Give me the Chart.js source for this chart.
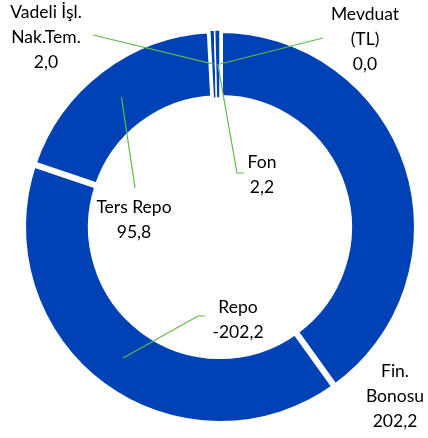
<!DOCTYPE html>
<html lang="tr">
  <head>
    <meta charset="UTF-8" />
    <title>Doughnut</title>
    <script src="https://cdn.jsdelivr.net/npm/chart.js"></script>
    <style>
      html, body { margin: 0; padding: 0; background: #fff; }
      #wrap { width: 428px; height: 438px; position: relative; }
    </style>
  </head>
  <body>
    <div id="wrap"><canvas id="myChart"></canvas></div>
    <script>
      // data
      const categories = ["Fin. Bonosu", "Repo", "Ters Repo", "Vadeli İşl. Nak.Tem.", "Fon", "Mevduat (TL)"];
      const values = [202.2, -202.2, 95.8, 2.0, 2.2, 0.0];
      const labelLines = [["Fin.", "Bonosu"], ["Repo"], ["Ters Repo"], ["Vadeli İşl.", "Nak.Tem."], ["Fon"], ["Mevduat", "(TL)"]];

      const BLUE = "#0042b6";
      const GREEN = "#5cbb48";

      // label centre (first line) and leader line points, per slice
      const labelPos = [
        { x: 395, y: 371, lead: null },
        { x: 238, y: 307, lead: [[205, 316], [198, 316]] },
        { x: 134, y: 207, lead: [[135, 188]] },
        { x: 46, y: 12, lead: [[93, 35]] },
        { x: 262, y: 162, lead: [[244, 173], [237, 173]] },
        { x: 365, y: 14, lead: [[323, 38]] },
      ];

      const fmt = (v) => v.toFixed(1).replace(".", ",");

      const labelPlugin = {
        id: "sliceLabels",
        afterDatasetsDraw(chart) {
          const ctx = chart.ctx;
          const meta = chart.getDatasetMeta(0);
          ctx.save();
          meta.data.forEach((arc, i) => {
            const p = labelPos[i];
            if (p.lead) {
              const mid = (arc.startAngle + arc.endAngle) / 2;
              const r = (arc.innerRadius + arc.outerRadius) / 2;
              ctx.strokeStyle = GREEN;
              ctx.lineWidth = 1.2;
              ctx.beginPath();
              ctx.moveTo(p.lead[0][0], p.lead[0][1]);
              for (let k = 1; k < p.lead.length; k++) ctx.lineTo(p.lead[k][0], p.lead[k][1]);
              ctx.lineTo(arc.x + Math.cos(mid) * r, arc.y + Math.sin(mid) * r);
              ctx.stroke();
            }
            const lines = labelLines[i].concat([fmt(values[i])]);
            ctx.fillStyle = "#000";
            ctx.font = "17.5px Lato";
            ctx.textAlign = "center";
            ctx.textBaseline = "middle";
            lines.forEach((t, k) => ctx.fillText(t, p.x, p.y + k * 25));
          });
          ctx.restore();
        },
      };

      new Chart(document.getElementById("myChart"), {
        type: "doughnut",
        data: {
          labels: categories,
          datasets: [
            {
              data: values.map((v) => Math.abs(v)),
              backgroundColor: BLUE,
              borderColor: "#fff",
              borderWidth: [6, 6, 6, 1.5, 1.5, 1.5],
              hoverBorderWidth: [6, 6, 6, 1.5, 1.5, 1.5],
            },
          ],
        },
        options: {
          responsive: true,
          maintainAspectRatio: false,
          animation: false,
          events: [],
          cutout: "65.5%",
          layout: { padding: { left: 20, top: 27, right: 8, bottom: 11 } },
          plugins: { legend: { display: false }, tooltip: { enabled: false } },
        },
        plugins: [labelPlugin],
      });
    </script>
  </body>
</html>
